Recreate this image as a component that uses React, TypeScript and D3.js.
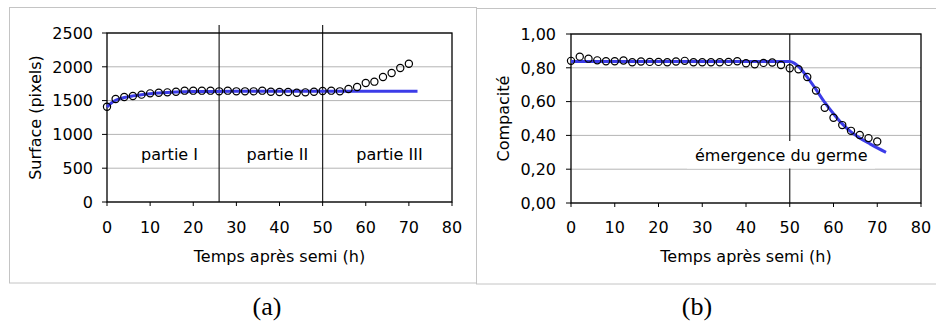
import React from "react";
import * as d3 from "d3";

// ---- Data ----
const hoursA = [0, 2, 4, 6, 8, 10, 12, 14, 16, 18, 20, 22, 24, 26, 28, 30, 32, 34, 36, 38, 40, 42, 44, 46, 48, 50, 52, 54, 56, 58, 60, 62, 64, 66, 68, 70];
const surface = [1410, 1524, 1553, 1568, 1588, 1607, 1617, 1622, 1632, 1647, 1647, 1647, 1647, 1637, 1647, 1637, 1637, 1637, 1647, 1632, 1627, 1627, 1617, 1622, 1632, 1642, 1647, 1637, 1672, 1701, 1760, 1780, 1849, 1908, 1982, 2046];
const fitHoursA = [0, 1, 2, 4, 6, 8, 10, 12, 14, 16, 18, 20, 24, 30, 40, 50, 60, 72];
const fitSurface = [1405, 1465, 1505, 1545, 1570, 1588, 1602, 1613, 1621, 1627, 1631, 1634, 1636, 1637, 1637, 1637, 1637, 1637];
const partLines = [26, 50];
const partLabels = ["partie I", "partie II", "partie III"];
const partLabelX = [14.5, 39.5, 65.5];

const hoursB = [0, 2, 4, 6, 8, 10, 12, 14, 16, 18, 20, 22, 24, 26, 28, 30, 32, 34, 36, 38, 40, 42, 44, 46, 48, 50, 52, 54, 56, 58, 60, 62, 64, 66, 68, 70];
const compacite = [0.841, 0.866, 0.854, 0.844, 0.839, 0.839, 0.843, 0.833, 0.837, 0.835, 0.835, 0.833, 0.837, 0.841, 0.833, 0.833, 0.833, 0.833, 0.835, 0.839, 0.827, 0.821, 0.829, 0.831, 0.817, 0.797, 0.791, 0.746, 0.665, 0.563, 0.504, 0.461, 0.427, 0.402, 0.384, 0.364];
const fitHoursB = [0, 10, 20, 30, 40, 50, 51, 52, 54, 56, 58, 60, 62, 64, 66, 68, 70, 72];
const fitCompacite = [0.837, 0.837, 0.837, 0.837, 0.837, 0.837, 0.828, 0.808, 0.745, 0.672, 0.595, 0.528, 0.468, 0.421, 0.385, 0.355, 0.326, 0.300];
const emergenceLine = [50];

const xTicks = [0, 10, 20, 30, 40, 50, 60, 70, 80];
const yTicksA = [0, 500, 1000, 1500, 2000, 2500];
const yTicksB = [0, 0.2, 0.4, 0.6, 0.8, 1.0];

const FONT = "DejaVu Sans, Verdana, sans-serif";
const BLUE = "#3c3ce8";

type PanelProps = {
  x0: number; x1: number; y0: number; y1: number;
  yMax: number; yTicks: number[]; yFmt: (v: number) => string;
  xs: number[]; ys: number[]; fx: number[]; fy: number[];
  vlines: number[]; vlineTop: number;
  yTitle: string; yTitleX: number; yLabelX: number;
  children?: (x: d3.ScaleLinear<number, number>, y: d3.ScaleLinear<number, number>) => React.ReactNode;
};

function Panel(p: PanelProps) {
  const x = d3.scaleLinear().domain([0, 80]).range([p.x0, p.x1]);
  const y = d3.scaleLinear().domain([0, p.yMax]).range([p.y1, p.y0]);
  const line = d3
    .line<number>()
    .x((_, i) => x(p.fx[i]))
    .y((d) => y(d))
    .curve(d3.curveMonotoneX);
  const cy = (p.y0 + p.y1) / 2;
  const cx = (p.x0 + p.x1) / 2;
  return (
    <g>
      {p.yTicks.map((t) => (
        <line key={"g" + t} x1={p.x0} x2={p.x1} y1={y(t)} y2={y(t)} stroke="#b4b4b4" strokeWidth={1} />
      ))}
      {p.vlines.map((v) => (
        <line key={"v" + v} x1={x(v)} x2={x(v)} y1={p.vlineTop} y2={p.y1} stroke="#222" strokeWidth={1.2} />
      ))}
      {p.children ? p.children(x, y) : null}
      <rect x={p.x0} y={p.y0} width={p.x1 - p.x0} height={p.y1 - p.y0} fill="none" stroke="#000" strokeWidth={1.3} />
      {p.yTicks.map((t) => (
        <g key={"yt" + t}>
          <line x1={p.x0 - 5} x2={p.x0} y1={y(t)} y2={y(t)} stroke="#000" strokeWidth={1} />
          <text x={p.yLabelX} y={y(t) + 5.8} textAnchor="end" fontFamily={FONT} fontSize={16} fill="#000">
            {p.yFmt(t)}
          </text>
        </g>
      ))}
      {xTicks.map((t) => (
        <g key={"xt" + t}>
          <line x1={x(t)} x2={x(t)} y1={p.y1} y2={p.y1 + 4} stroke="#000" strokeWidth={1} />
          <text x={x(t)} y={233} textAnchor="middle" fontFamily={FONT} fontSize={16} fill="#000">
            {t}
          </text>
        </g>
      ))}
      <path d={line(p.fy) || ""} fill="none" stroke={BLUE} strokeWidth={3} />
      {p.xs.map((h, i) => (
        <circle key={"c" + h} cx={x(h)} cy={y(p.ys[i])} r={3.6} fill="none" stroke="#000" strokeWidth={1.2} />
      ))}
      <text x={cx} y={262} textAnchor="middle" fontFamily={FONT} fontSize={16} fill="#000">
        Temps après semi (h)
      </text>
      <text
        transform={`translate(${p.yTitleX},${cy}) rotate(-90)`}
        textAnchor="middle"
        fontFamily={FONT}
        fontSize={16}
        fill="#000"
      >
        {p.yTitle}
      </text>
    </g>
  );
}

export default function App() {
  const fmtB = d3.format(".2f");
  return (
    <svg width={936} height={322} style={{ position: "absolute", left: 0, top: 0, background: "#fff" }}>
      <rect x={0} y={0} width={936} height={322} fill="#fff" />
      <rect x={9.5} y={7.5} width={467} height={275.5} fill="none" stroke="#c4c4c4" strokeWidth={1} />
      <rect x={476.5} y={8.5} width={470} height={275.5} fill="none" stroke="#c4c4c4" strokeWidth={1} />
      <Panel
        x0={107} x1={452} y0={33} y1={202}
        yMax={2500} yTicks={yTicksA} yFmt={(v) => String(v)}
        xs={hoursA} ys={surface} fx={fitHoursA} fy={fitSurface}
        vlines={partLines} vlineTop={25}
        yTitle="Surface (pixels)" yTitleX={41} yLabelX={93}
      >
        {(x, y) =>
          partLabels.map((l, i) => (
            <text key={l} x={x(partLabelX[i])} y={160} textAnchor="middle" fontFamily={FONT} fontSize={16} fill="#000">
              {l}
            </text>
          ))
        }
      </Panel>
      <Panel
        x0={571} x1={921} y0={34} y1={203}
        yMax={1} yTicks={yTicksB} yFmt={(v) => fmtB(v).replace(".", ",")}
        xs={hoursB} ys={compacite} fx={fitHoursB} fy={fitCompacite}
        vlines={emergenceLine} vlineTop={34}
        yTitle="Compacité" yTitleX={509} yLabelX={556}
      >
        {() => (
          <g>
            <rect x={687} y={141} width={188} height={27.5} fill="#fff" />
            <text x={695} y={161} fontFamily={FONT} fontSize={16} fill="#000">
              émergence du germe
            </text>
          </g>
        )}
      </Panel>
      <text x={267} y={315} textAnchor="middle" fontFamily="Liberation Serif, Times New Roman, serif" fontSize={26} fill="#000">
        (a)
      </text>
      <text x={697} y={315} textAnchor="middle" fontFamily="Liberation Serif, Times New Roman, serif" fontSize={26} fill="#000">
        (b)
      </text>
    </svg>
  );
}
